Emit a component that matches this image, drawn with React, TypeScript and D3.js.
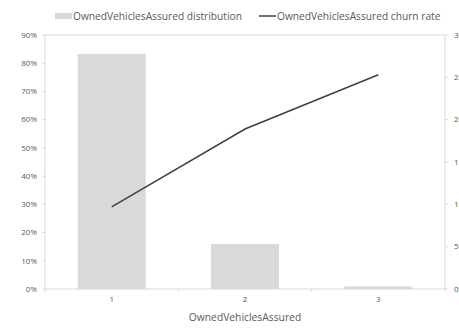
import React from "react";
import * as d3 from "d3";

const categories = ["1", "2", "3"];
const distribution = [0.833, 0.159, 0.009];
const churnRate = [0.097, 0.189, 0.253];
const leftTicks = [0, 0.1, 0.2, 0.3, 0.4, 0.5, 0.6, 0.7, 0.8, 0.9];
const rightTicks = [0, 0.05, 0.1, 0.15, 0.2, 0.25, 0.3];
const seriesNames = ["OwnedVehiclesAssured distribution", "OwnedVehiclesAssured churn rate"];
const xTitle = "OwnedVehiclesAssured";

const W = 459, H = 328;
const L = 45, R = 445, T = 35, B = 289;
const font = "'Open Sans', 'DejaVu Sans', sans-serif";
const axisColor = "#d9d9d9";
const textColor = "#595959";

export default function App() {
  const x = d3.scaleBand<string>().domain(categories).range([L, R]).paddingInner(0.49).paddingOuter(0.245);
  const yL = d3.scaleLinear().domain([0, 0.9]).range([B, T]);
  const yR = d3.scaleLinear().domain([0, 0.3]).range([B, T]);
  const fmt = d3.format(".0%");
  const step = (R - L) / categories.length;
  const line = d3.line<number>()
    .x((_, i) => (x(categories[i]) as number) + x.bandwidth() / 2)
    .y((d) => yR(d));

  return (
    <svg width={W} height={H} style={{ position: "absolute", left: 0, top: 0, background: "#fff" }} fontFamily={font}>
      {/* legend */}
      <rect x={55} y={13} width={17} height={6} fill="#d9d9d9" />
      <text x={73} y={19.5} fontSize={10.2} fill={textColor}>{seriesNames[0]}</text>
      <line x1={259} x2={276} y1={16} y2={16} stroke="#404040" strokeWidth={1.5} />
      <text x={277} y={19.5} fontSize={10.2} fill={textColor}>{seriesNames[1]}</text>

      {/* bars */}
      {distribution.map((d, i) => (
        <rect key={i} x={x(categories[i])} y={yL(d)} width={x.bandwidth()} height={B - yL(d)} fill="#d9d9d9" />
      ))}

      {/* frame */}
      <line x1={L} x2={R} y1={T} y2={T} stroke={axisColor} />
      <line x1={L} x2={L} y1={T} y2={B} stroke={axisColor} />
      <line x1={R} x2={R} y1={T} y2={B} stroke={axisColor} />
      <line x1={L} x2={R} y1={B} y2={B} stroke={axisColor} />

      {/* left axis */}
      {leftTicks.map((t) => (
        <g key={t}>
          <line x1={L - 3} x2={L} y1={yL(t)} y2={yL(t)} stroke={axisColor} />
          <text x={37} y={yL(t) + 2.8} fontSize={8} textAnchor="end" fill={textColor}>{fmt(t)}</text>
        </g>
      ))}
      {/* right axis */}
      {rightTicks.map((t) => (
        <g key={t}>
          <line x1={R} x2={R + 3} y1={yR(t)} y2={yR(t)} stroke={axisColor} />
          <text x={454} y={yR(t) + 2.8} fontSize={8} fill={textColor}>{fmt(t)}</text>
        </g>
      ))}
      {/* x axis ticks */}
      {d3.range(categories.length + 1).map((i) => (
        <line key={i} x1={L + i * step} x2={L + i * step} y1={B} y2={B + 3} stroke={axisColor} />
      ))}
      {categories.map((c) => (
        <text key={c} x={(x(c) as number) + x.bandwidth() / 2} y={302} fontSize={8} textAnchor="middle" fill={textColor}>{c}</text>
      ))}
      <text x={(L + R) / 2} y={321} fontSize={10.3} textAnchor="middle" fill={textColor}>{xTitle}</text>

      {/* churn line */}
      <path d={line(churnRate) as string} fill="none" stroke="#404040" strokeWidth={1.5} />
    </svg>
  );
}
